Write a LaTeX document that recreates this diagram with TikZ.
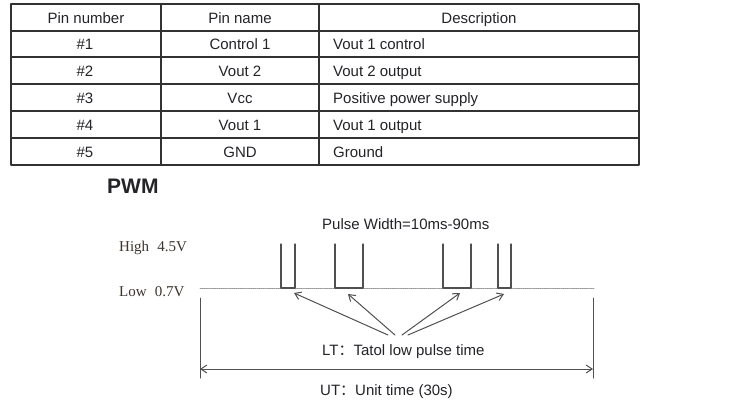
\documentclass[tikz,border=0pt]{standalone}
\usepackage{fontspec}
\setmainfont{Liberation Sans}
\newfontfamily\levelfont{Liberation Serif}
\newfontfamily\cjk{Noto Sans CJK SC}
\usetikzlibrary{arrows.meta}

\definecolor{txt}{RGB}{35,35,40}
\definecolor{rulecol}{RGB}{50,50,50}
\definecolor{wavecol}{RGB}{80,80,80}
\definecolor{lowcol}{RGB}{150,150,150}
\definecolor{lvlcol}{RGB}{60,52,45}

\begin{document}
\begin{tikzpicture}[x=1pt, y=-1pt, line cap=round, line join=round,
    cell/.style={font=\fontsize{15}{18}\selectfont, text=txt, inner sep=0pt},
    level/.style={font=\levelfont\fontsize{15}{18}\selectfont, text=lvlcol, inner sep=0pt},
    grid/.style={draw=rulecol, line width=1.1pt},
    wave/.style={draw=wavecol, line width=1.2pt},
    pointer/.style={draw=wavecol, line width=1pt, -{Straight Barb[length=6pt, width=8pt]}},
    span/.style={draw=wavecol, line width=1pt, {Straight Barb[length=6pt, width=8pt]}-{Straight Barb[length=6pt, width=8pt]}}]

    \useasboundingbox (0,0) rectangle (737,402);

    % pin table
    \draw[grid] (11,4) rectangle (639,165);
    \draw[grid] (161,4) -- (161,165);
    \draw[grid] (319,4) -- (319,165);
    \draw[grid] (11,31) -- (639,31);
    \draw[grid] (11,57) -- (639,57);
    \draw[grid] (11,84) -- (639,84);
    \draw[grid] (11,111) -- (639,111);
    \draw[grid] (11,138) -- (639,138);

    \node[cell, anchor=base] (hnum) at (86,23) {Pin number};
    \node[cell, anchor=base] (hname) at (240,23) {Pin name};
    \node[cell, anchor=base] (hdesc) at (479,23) {Description};

    \node[cell, anchor=base] (num1) at (85,49.5) {\#1};
    \node[cell, anchor=base] (name1) at (240,49.5) {Control 1};
    \node[cell, anchor=base west] (desc1) at (333,49.5) {Vout 1 control};

    \node[cell, anchor=base] (num2) at (85,76) {\#2};
    \node[cell, anchor=base] (name2) at (240,76) {Vout 2};
    \node[cell, anchor=base west] (desc2) at (333,76) {Vout 2 output};

    \node[cell, anchor=base] (num3) at (85,103) {\#3};
    \node[cell, anchor=base] (name3) at (240,103) {Vcc};
    \node[cell, anchor=base west] (desc3) at (333,103) {Positive power supply};

    \node[cell, anchor=base] (num4) at (85,130) {\#4};
    \node[cell, anchor=base] (name4) at (240,130) {Vout 1};
    \node[cell, anchor=base west] (desc4) at (333,130) {Vout 1 output};

    \node[cell, anchor=base] (num5) at (85,157) {\#5};
    \node[cell, anchor=base] (name5) at (240,157) {GND};
    \node[cell, anchor=base west] (desc5) at (333,157) {Ground};

    % PWM waveform
    \node[cell, font=\fontsize{21}{24}\selectfont\bfseries, anchor=base west] (pwm) at (107,193) {PWM};
    \node[cell, anchor=base west] (width) at (322,229) {Pulse Width=10ms-90ms};
    \node[level, anchor=base west] (high) at (119,251) {High\hspace{0.55em}4.5V};
    \node[level, anchor=base west] (low) at (119,296) {Low\hspace{0.55em}0.7V};

    \draw[draw=lowcol, line width=0.9pt, densely dotted] (200,288) -- (594,288);

    \draw[wave] (281,244) -- (281,288) -- (295,288) -- (295,244);
    \draw[wave] (335,244) -- (335,288) -- (363,288) -- (363,244);
    \draw[wave] (443,244) -- (443,288) -- (471,288) -- (471,244);
    \draw[wave] (498,244) -- (498,288) -- (511,288) -- (511,244);

    \coordinate (tip1) at (294,293);
    \coordinate (tip2) at (348,294);
    \coordinate (tip3) at (460,293);
    \coordinate (tip4) at (504,294);
    \coordinate (src1) at (388,335);
    \coordinate (src2) at (395,335);
    \coordinate (src3) at (402,335);
    \coordinate (src4) at (408,335);

    \draw[pointer] (src1) -- (tip1);
    \draw[pointer] (src2) -- (tip2);
    \draw[pointer] (src3) -- (tip3);
    \draw[pointer] (src4) -- (tip4);

    \node[cell, anchor=base west] (lt) at (322,355) {LT{\cjk ：}Tatol low pulse time};

    \draw[wave, line width=1pt] (200,298) -- (200,378);
    \draw[wave, line width=1pt] (593,298) -- (593,378);
    \coordinate (utl) at (200,369);
    \coordinate (utr) at (593,369);
    \draw[span] (utl) -- (utr);

    \node[cell, anchor=base west] (ut) at (320,395) {UT{\cjk ：}Unit time (30s)};

\end{tikzpicture}
\end{document}
